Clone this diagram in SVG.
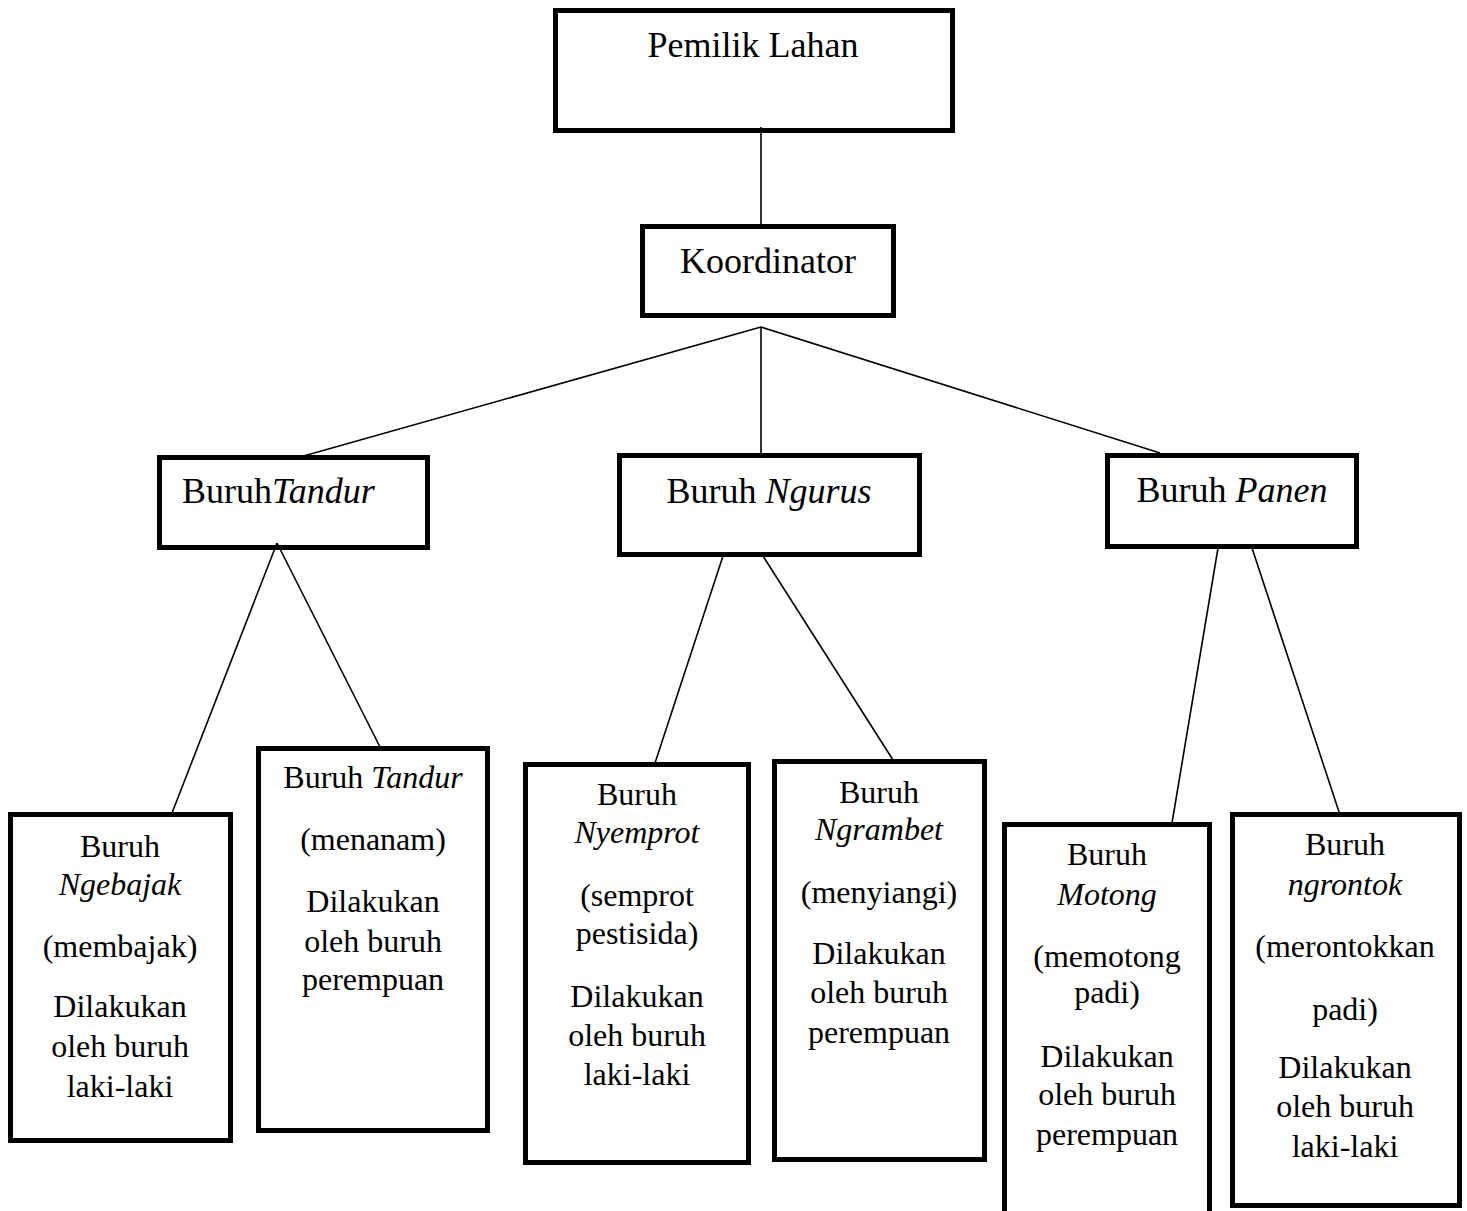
<svg xmlns="http://www.w3.org/2000/svg" width="1467" height="1211" viewBox="0 0 1467 1211">
<style>
.box{fill:#fff;stroke:#000;stroke-width:5}
.t{font-family:"Liberation Serif","Times New Roman",serif;fill:#000;text-anchor:middle}
.big{font-size:36px}
.sm{font-size:32px}
.i{font-style:italic}
.c line{stroke:#000;stroke-width:1.6}
</style>
<rect width="1467" height="1211" fill="#fff"/>
<g id="n-pemilik"><rect class="box" x="555.5" y="10.5" width="397" height="120"/><text class="t big" x="753" y="57">Pemilik Lahan</text></g>
<g id="n-koordinator"><rect class="box" x="642.5" y="226.5" width="251" height="89"/><text class="t big" x="768" y="273">Koordinator</text></g>
<g id="n-tandur"><rect class="box" x="159.5" y="457.5" width="268" height="90"/><text class="t big" x="182" y="503" style="text-anchor:start">Buruh<tspan class="i">Tandur</tspan></text></g>
<g id="n-ngurus"><rect class="box" x="619.5" y="455.5" width="300" height="99"/><text class="t big" x="769" y="503">Buruh <tspan class="i">Ngurus</tspan></text></g>
<g id="n-panen"><rect class="box" x="1107.5" y="455.5" width="249" height="91"/><text class="t big" x="1232" y="502">Buruh <tspan class="i">Panen</tspan></text></g>
<g id="c" class="c">
<line x1="761" y1="127" x2="761" y2="226"/>
<line x1="761" y1="327" x2="761" y2="455"/>
<line x1="761" y1="327" x2="300" y2="457"/>
<line x1="761" y1="327" x2="1160" y2="453"/>
<line x1="277" y1="543" x2="172" y2="813"/>
<line x1="277" y1="543" x2="380" y2="747"/>
<line x1="723" y1="556" x2="655" y2="763"/>
<line x1="763" y1="556" x2="893" y2="760"/>
<line x1="1218" y1="548" x2="1172" y2="823"/>
<line x1="1252" y1="548" x2="1343" y2="824"/>
</g>
<g id="n-ngebajak"><rect class="box" x="10.5" y="814.5" width="220" height="326"/>
<text class="t sm" x="120" y="857">Buruh</text><text class="t sm i" x="120" y="895">Ngebajak</text><text class="t sm" x="120" y="957">(membajak)</text><text class="t sm" x="120" y="1017">Dilakukan</text><text class="t sm" x="120" y="1057">oleh buruh</text><text class="t sm" x="120" y="1097">laki-laki</text></g>
<g id="n-tandur2"><rect class="box" x="258.5" y="748.5" width="229" height="382"/>
<text class="t sm" x="373" y="788">Buruh <tspan class="i">Tandur</tspan></text><text class="t sm" x="373" y="850">(menanam)</text><text class="t sm" x="373" y="912">Dilakukan</text><text class="t sm" x="373" y="952">oleh buruh</text><text class="t sm" x="373" y="990">perempuan</text></g>
<g id="n-nyemprot"><rect class="box" x="525.5" y="764.5" width="223" height="398"/>
<text class="t sm" x="637" y="805">Buruh</text><text class="t sm i" x="637" y="843">Nyemprot</text><text class="t sm" x="637" y="906">(semprot</text><text class="t sm" x="637" y="944">pestisida)</text><text class="t sm" x="637" y="1007">Dilakukan</text><text class="t sm" x="637" y="1046">oleh buruh</text><text class="t sm" x="637" y="1085">laki-laki</text></g>
<g id="n-ngrambet"><rect class="box" x="774.5" y="761.5" width="210" height="398"/>
<text class="t sm" x="879" y="803">Buruh</text><text class="t sm i" x="879" y="840">Ngrambet</text><text class="t sm" x="879" y="903">(menyiangi)</text><text class="t sm" x="879" y="964">Dilakukan</text><text class="t sm" x="879" y="1003">oleh buruh</text><text class="t sm" x="879" y="1043">perempuan</text></g>
<g id="n-motong"><rect class="box" x="1004.5" y="824.5" width="205" height="400"/>
<text class="t sm" x="1107" y="865">Buruh</text><text class="t sm i" x="1107" y="905">Motong</text><text class="t sm" x="1107" y="967">(memotong</text><text class="t sm" x="1107" y="1003">padi)</text><text class="t sm" x="1107" y="1067">Dilakukan</text><text class="t sm" x="1107" y="1105">oleh buruh</text><text class="t sm" x="1107" y="1145">perempuan</text></g>
<g id="n-ngrontok"><rect class="box" x="1232.5" y="814.5" width="227" height="391"/>
<text class="t sm" x="1345" y="855">Buruh</text><text class="t sm i" x="1345" y="895">ngrontok</text><text class="t sm" x="1345" y="957">(merontokkan</text><text class="t sm" x="1345" y="1020">padi)</text><text class="t sm" x="1345" y="1078">Dilakukan</text><text class="t sm" x="1345" y="1117">oleh buruh</text><text class="t sm" x="1345" y="1157">laki-laki</text></g>
</svg>
